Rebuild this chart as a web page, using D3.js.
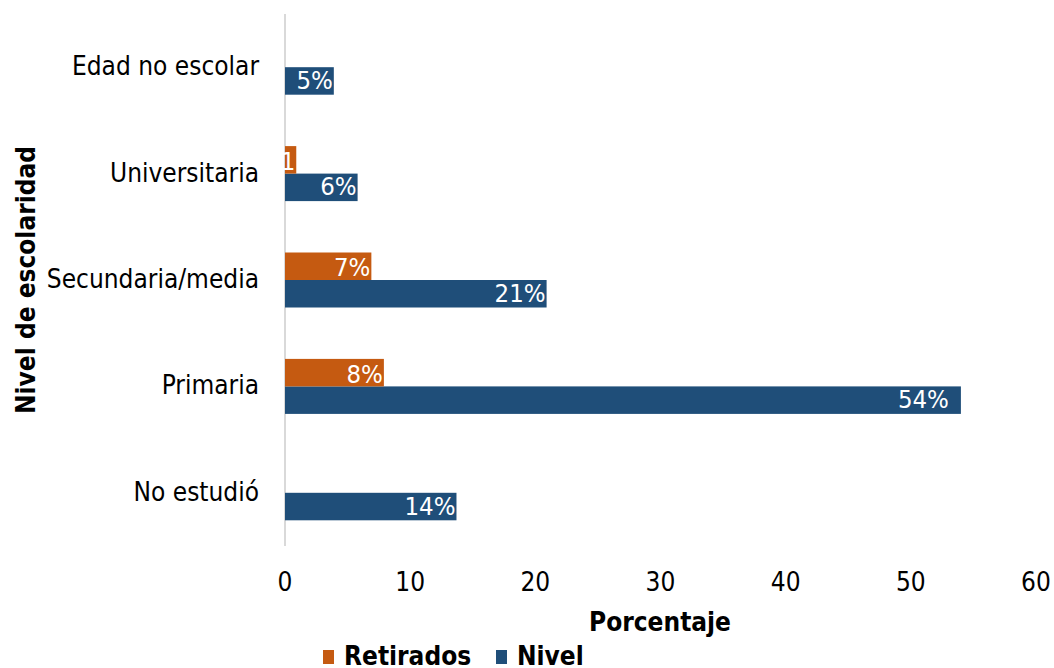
<!DOCTYPE html>
<html><head><meta charset="utf-8">
<script src="https://cdn.jsdelivr.net/npm/d3@7"></script>
<style>body{margin:0;background:#fff}svg{display:block}text{font-family:"DejaVu Sans Condensed","DejaVu Sans",sans-serif;font-stretch:condensed}</style>
</head><body><svg id="c" width="1054" height="668"></svg>
<script>
const categories = ["Edad no escolar","Universitaria","Secundaria/media","Primaria","No estudió"];
const nivelValues = [3.9, 5.8, 20.9, 54, 13.7];
const nivelLabels = ["5%","6%","21%","54%","14%"];
const retiradosValues = [null, 0.9, 6.9, 7.9, null];
const retiradosLabels = ["", "1", "7%", "8%", ""];
const xTicks = [0,10,20,30,40,50,60];
const seriesNames = ["Retirados","Nivel"];
const colors = {Retirados:"#C55A11", Nivel:"#1F4E79"};

const svg = d3.select("#c");
const x = d3.scaleLinear().domain([0,60]).range([285,1036]);
const y = d3.scaleBand().domain(categories).range([14,546]);
const bh = 27.5;

svg.append("line").attr("x1",x(0)).attr("x2",x(0)).attr("y1",14).attr("y2",546)
  .attr("stroke","#d9d9d9").attr("stroke-width",2);

const cy = c => y(c) + y.bandwidth()/2;

categories.forEach((c,i)=>{
  const v = nivelValues[i];
  svg.append("rect").attr("x",x(0)).attr("y",cy(c)).attr("width",x(v)-x(0)).attr("height",bh).attr("fill",colors.Nivel);
  svg.append("text").attr("x",x(v)-(v>50?12:1)).attr("y",cy(c)+bh/2+8).attr("text-anchor","end")
    .attr("fill","#fff").attr("font-size",25.5).text(nivelLabels[i]);
  const r = retiradosValues[i];
  if(r!=null){
    svg.append("rect").attr("x",x(0)).attr("y",cy(c)-bh).attr("width",x(r)-x(0)).attr("height",bh).attr("fill",colors.Retirados);
    svg.append("text").attr("x",x(r)-1).attr("y",cy(c)-bh/2+10).attr("text-anchor","end")
      .attr("fill","#fff").attr("font-size",25.5).text(retiradosLabels[i]);
  }
});

categories.forEach(c=>{
  svg.append("text").attr("x",259).attr("y",cy(c)+8).attr("text-anchor","end")
    .attr("font-size",26).attr("fill","#000").text(c);
});

xTicks.forEach(t=>{
  svg.append("text").attr("x",x(t)).attr("y",591).attr("text-anchor","middle")
    .attr("font-size",26).attr("fill","#000").text(t);
});

svg.append("text").attr("x",660).attr("y",631).attr("text-anchor","middle")
  .attr("font-size",26).attr("font-weight","bold").text("Porcentaje");
svg.append("text").attr("transform","translate(35,280) rotate(-90)").attr("text-anchor","middle")
  .attr("font-size",26).attr("font-weight","bold").text("Nivel de escolaridad");

const lg = [{n:"Retirados",x:323},{n:"Nivel",x:496}];
lg.forEach(d=>{
  svg.append("rect").attr("x",d.x).attr("y",650).attr("width",11).attr("height",14).attr("fill",colors[d.n]);
  svg.append("text").attr("x",d.x+21).attr("y",665).attr("font-size",26).attr("font-weight","bold").text(d.n);
});
</script></body></html>
